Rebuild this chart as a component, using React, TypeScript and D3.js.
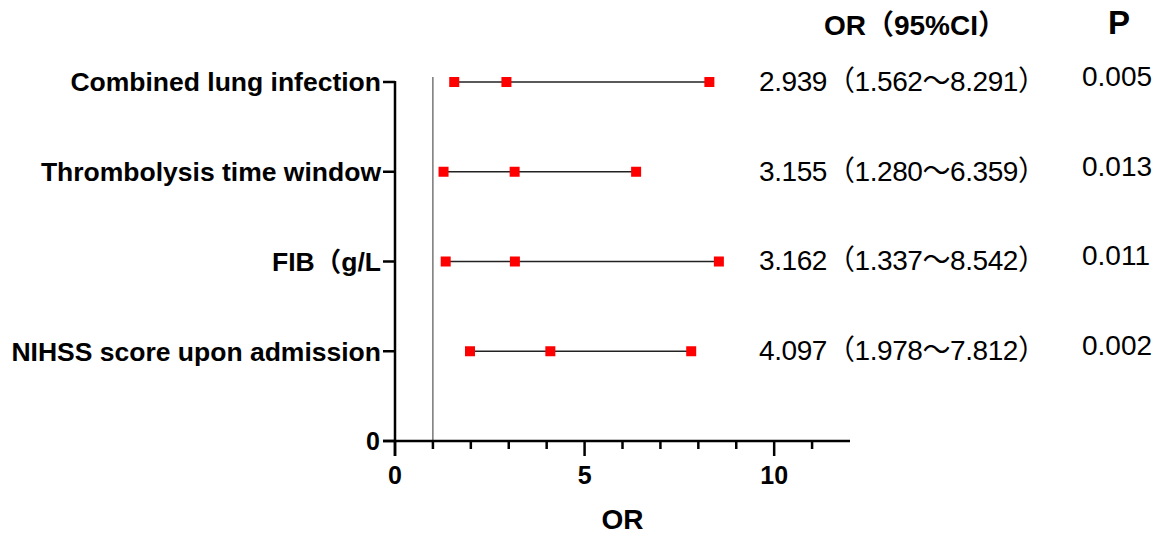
import { scaleLinear, range } from "d3";

const labels = [
  "Combined lung infection",
  "Thrombolysis time window",
  "FIB（g/L",
  "NIHSS score upon admission",
];
const orValues = [2.939, 3.155, 3.162, 4.097];
const lowerCI = [1.562, 1.28, 1.337, 1.978];
const upperCI = [8.291, 6.359, 8.542, 7.812];
const pValues = ["0.005", "0.013", "0.011", "0.002"];
const xMajorTicks = [0, 5, 10];
const xMinorTicks = range(0, 12);

const width = 1159;
const height = 535;
const plot = { left: 395, right: 850, top: 82, bottom: 441 };

const font = "'Liberation Sans', Arial, 'Noto Sans CJK SC', sans-serif";
const fmt = (v: number) => v.toFixed(3);

const App = () => {
  const xScale = scaleLinear().domain([0, 12]).range([plot.left, plot.right]);
  const yScale = scaleLinear().domain([0, 4]).range([plot.bottom, plot.top]);

  const rows = labels.map((label, i) => ({
    label,
    or: orValues[i],
    lo: lowerCI[i],
    hi: upperCI[i],
    p: pValues[i],
    pos: labels.length - i,
  }));

  return (
    <svg
      width={width}
      height={height}
      style={{ position: "absolute", left: 0, top: 0, background: "#fff" }}
      fontFamily={font}
    >
      {/* reference line at OR = 1 */}
      <line
        x1={xScale(1)}
        x2={xScale(1)}
        y1={yScale(4) - 5}
        y2={yScale(0)}
        stroke="#333"
        strokeWidth={1}
      />

      {/* y axis */}
      <line
        x1={plot.left}
        x2={plot.left}
        y1={yScale(4) - 1}
        y2={yScale(0) + 15}
        stroke="black"
        strokeWidth={2.5}
      />
      <g>
        <line x1={plot.left - 12} x2={plot.left} y1={yScale(0)} y2={yScale(0)} stroke="black" strokeWidth={2.5} />
        <text x={plot.left - 15} y={yScale(0)} dy="0.35em" textAnchor="end" fontSize={25} fontWeight="bold">
          0
        </text>
      </g>
      {rows.map((r) => (
        <g key={r.label} transform={`translate(0,${yScale(r.pos)})`}>
          <line x1={plot.left - 12} x2={plot.left} stroke="black" strokeWidth={2.5} />
          <text x={plot.left - 14} dy="0.35em" textAnchor="end" fontSize={26.5} fontWeight="bold">
            {r.label}
          </text>
        </g>
      ))}

      {/* x axis */}
      <line
        x1={plot.left - 12}
        x2={plot.right}
        y1={plot.bottom}
        y2={plot.bottom}
        stroke="black"
        strokeWidth={2.5}
      />
      {xMinorTicks.map((t) => (
        <line
          key={t}
          x1={xScale(t)}
          x2={xScale(t)}
          y1={plot.bottom}
          y2={plot.bottom + (xMajorTicks.includes(t) ? 15 : 8)}
          stroke="black"
          strokeWidth={2.5}
        />
      ))}
      {xMajorTicks.map((t) => (
        <text
          key={t}
          x={xScale(t)}
          y={plot.bottom + 34}
          dy="0.35em"
          textAnchor="middle"
          fontSize={25}
          fontWeight="bold"
        >
          {t}
        </text>
      ))}
      <text
        x={(plot.left + plot.right) / 2}
        y={519}
        dy="0.35em"
        textAnchor="middle"
        fontSize={28}
        fontWeight="bold"
      >
        OR
      </text>

      {/* CI lines and markers */}
      {rows.map((r) => {
        const y = yScale(r.pos);
        return (
          <g key={r.label}>
            <line x1={xScale(r.lo)} x2={xScale(r.hi)} y1={y} y2={y} stroke="#222" strokeWidth={1.5} />
            {[r.lo, r.or, r.hi].map((v, j) => (
              <rect key={j} x={xScale(v) - 5} y={y - 5} width={10} height={10} fill="#ff0000" />
            ))}
          </g>
        );
      })}

      {/* right-side table */}
      <text x={915} y={25} dy="0.35em" textAnchor="middle" fontSize={28} fontWeight="bold">
        OR（95%CI）
      </text>
      <text x={1119} y={22} dy="0.35em" textAnchor="middle" fontSize={33} fontWeight="bold">
        P
      </text>
      {rows.map((r) => {
        const y = yScale(r.pos);
        return (
          <g key={r.label}>
            <text x={759} y={y - 1} dy="0.35em" fontSize={28} textLength={287} lengthAdjust="spacing">
              {`${fmt(r.or)}（${fmt(r.lo)}～${fmt(r.hi)}）`}
            </text>
            <text x={1082} y={y - 6} dy="0.35em" fontSize={28}>
              {r.p}
            </text>
          </g>
        );
      })}
    </svg>
  );
};

export default App;
